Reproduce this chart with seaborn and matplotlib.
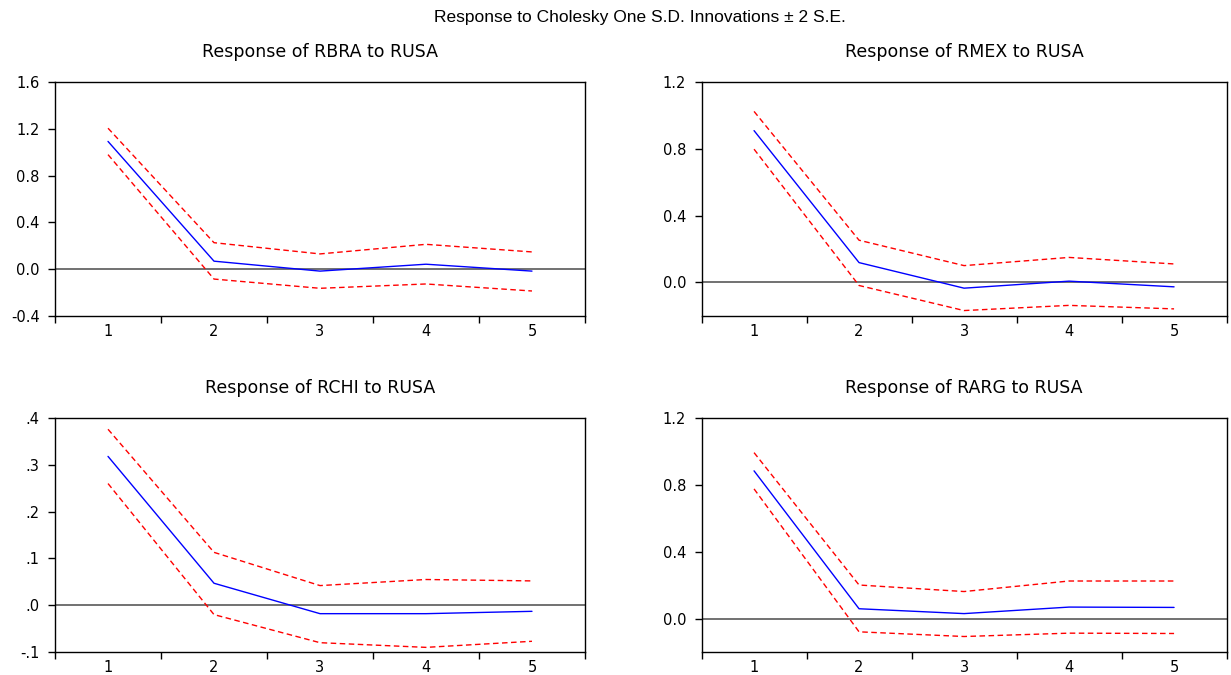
import numpy as np
import pandas as pd
import matplotlib
matplotlib.use("Agg")
import matplotlib.pyplot as plt
import seaborn as sns
from matplotlib.ticker import FixedLocator, FuncFormatter

# ---------------- data ----------------
periods = [1, 2, 3, 4, 5]

rbra_resp = [1.092, 0.068, -0.017, 0.042, -0.017]
rbra_upper = [1.205, 0.226, 0.130, 0.212, 0.147]
rbra_lower = [0.979, -0.085, -0.164, -0.127, -0.187]

rmex_resp = [0.909, 0.119, -0.034, 0.008, -0.026]
rmex_upper = [1.024, 0.253, 0.101, 0.150, 0.111]
rmex_lower = [0.798, -0.018, -0.168, -0.137, -0.158]

rchi_resp = [0.318, 0.047, -0.018, -0.018, -0.013]
rchi_upper = [0.376, 0.113, 0.042, 0.055, 0.052]
rchi_lower = [0.260, -0.020, -0.080, -0.090, -0.077]

rarg_resp = [0.884, 0.059, 0.030, 0.069, 0.067]
rarg_upper = [0.993, 0.201, 0.162, 0.225, 0.225]
rarg_lower = [0.776, -0.079, -0.107, -0.087, -0.089]

panel_titles = ["Response of RBRA to RUSA", "Response of RMEX to RUSA",
                "Response of RCHI to RUSA", "Response of RARG to RUSA"]
main_title = "Response to Cholesky One S.D. Innovations \u00b1 2 S.E."

y_limits = [(-0.4, 1.6), (-0.2, 1.2), (-0.1, 0.4), (-0.2, 1.2)]
y_ticks = [[-0.4, 0.0, 0.4, 0.8, 1.2, 1.6],
           [0.0, 0.4, 0.8, 1.2],
           [-0.1, 0.0, 0.1, 0.2, 0.3, 0.4],
           [0.0, 0.4, 0.8, 1.2]]

series = [(rbra_resp, rbra_upper, rbra_lower),
          (rmex_resp, rmex_upper, rmex_lower),
          (rchi_resp, rchi_upper, rchi_lower),
          (rarg_resp, rarg_upper, rarg_lower)]

# ---------------- style ----------------
sns.set_style("ticks")
plt.rcParams["font.family"] = ["Liberation Sans", "DejaVu Sans"]
plt.rcParams["text.color"] = "black"
plt.rcParams["xtick.color"] = "black"
plt.rcParams["ytick.color"] = "black"
plt.rcParams["xtick.labelcolor"] = "black"
plt.rcParams["ytick.labelcolor"] = "black"
plt.rcParams["axes.titlecolor"] = "black"
wide_font = ["DejaVu Sans"]

fig = plt.figure(figsize=(12.31, 6.75), dpi=100)

positions = [
    [0.0447, 0.532, 0.4305, 0.3465],
    [0.5699, 0.532, 0.4265, 0.3465],
    [0.0447, 0.034, 0.4305, 0.3467],
    [0.5699, 0.034, 0.4265, 0.3467],
]

def fmt_plain(v, pos):
    return f"{v:.1f}"

def fmt_nolead(v, pos):
    s = f"{v:.1f}"
    return s.replace("0.", ".")

for i, (pos, (resp, up, lo)) in enumerate(zip(positions, series)):
    ax = fig.add_axes(pos)
    df = pd.DataFrame({
        "period": periods * 3,
        "value": list(resp) + list(up) + list(lo),
        "line": ["resp"] * 5 + ["upper"] * 5 + ["lower"] * 5,
    })
    ax.axhline(0, color="#666666", lw=1.3, zorder=1)
    sns.lineplot(data=df[df.line == "resp"], x="period", y="value", ax=ax,
                 color="#0000FF", lw=1.0, zorder=3)
    for name in ["upper", "lower"]:
        sns.lineplot(data=df[df.line == name], x="period", y="value", ax=ax,
                     color="#FF0000", lw=1.0, zorder=2,
                     linestyle=(0, (4, 2.5)))
    ax.set_xlim(0.5, 5.5)
    ax.set_ylim(*y_limits[i])
    ax.set_xlabel("")
    ax.set_ylabel("")
    ax.xaxis.set_major_locator(FixedLocator(periods))
    ax.xaxis.set_minor_locator(FixedLocator([0.5, 1.5, 2.5, 3.5, 4.5, 5.5]))
    ax.tick_params(axis="x", which="major", length=0, pad=6, labelsize=10.5)
    ax.tick_params(axis="x", which="minor", length=5, width=1.0, direction="out")
    ax.yaxis.set_major_locator(FixedLocator(y_ticks[i]))
    ax.yaxis.set_major_formatter(FuncFormatter(fmt_nolead if i == 2 else fmt_plain))
    ax.tick_params(axis="y", length=5, width=1.0, direction="out", pad=6, labelsize=10.5)
    for lab in ax.get_xticklabels() + ax.get_yticklabels():
        lab.set_family(wide_font)
    for s in ax.spines.values():
        s.set_visible(True)
        s.set_color("black")
        s.set_linewidth(1.0)
    ax.set_title(panel_titles[i], fontsize=12.5, pad=18, family=wide_font, color="black")

fig.suptitle(main_title, x=0.52, y=0.985, fontsize=12.5, color="black")

fig.savefig("out.png", dpi=100)
